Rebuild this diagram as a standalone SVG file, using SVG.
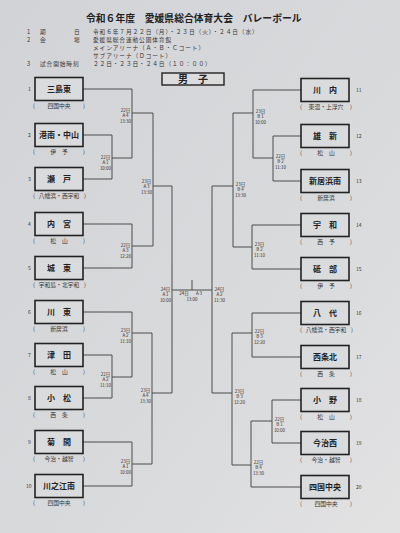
<svg xmlns="http://www.w3.org/2000/svg" width="400" height="533" viewBox="0 0 400 533">
<defs>
<linearGradient id="paper" x1="0" y1="0" x2="1" y2="1">
<stop offset="0" stop-color="#d2d3d6"/>
<stop offset="0.6" stop-color="#d9dadc"/>
<stop offset="1" stop-color="#e2e2e3"/>
</linearGradient>
</defs>
<style>
text{font-family:"Noto Sans CJK JP","Noto Sans",sans-serif;fill:#222}
.title{font-size:9.8px;font-weight:bold}
.info{font-size:5.7px;letter-spacing:0.9px;fill:#333}
.box{fill:#dadbdc;stroke:#222;stroke-width:1.6}
.name{font-size:8px;font-weight:bold;text-anchor:middle}
.sub{font-size:5.8px;text-anchor:middle;fill:#333}
.par{font-size:5.8px;fill:#333}
.num{font-size:5px;fill:#333}
.ml{font-size:4.5px;text-anchor:middle;fill:#333}
.ln{fill:none;stroke:#4d4d4d;stroke-width:1}
</style>
<rect width="400" height="533" fill="url(#paper)"/>

<g id="header">
<text class="title" x="86" y="21.8">令和６年度　愛媛県総合体育大会　バレーボール</text>
<text class="info" x="27" y="34.3">1</text><text class="info" x="40" y="34.3">期</text><text class="info" x="74" y="34.3">日</text>
<text class="info" x="93" y="34.3">令和６年７月２２日（月）・２３日（火）・２４日（水）</text>
<text class="info" x="27" y="42.2">2</text><text class="info" x="40" y="42.2">会</text><text class="info" x="74" y="42.2">場</text>
<text class="info" x="93" y="42.2">愛媛県総合運動公園体育館</text>
<text class="info" x="93" y="50.1">メインアリーナ（Ａ・Ｂ・Ｃコート）</text>
<text class="info" x="93" y="57.8">サブアリーナ（Ｄコート）</text>
<text class="info" x="27" y="65.5">3</text><text class="info" x="40" y="65.5">試合開始時刻</text>
<text class="info" x="93" y="65.5">２２日・２３日・２４日（１０：００）</text>
</g>

<g id="category">
<rect x="162" y="73" width="62" height="12" fill="#dcdcdd" stroke="#222" stroke-width="1.4"/>
<text x="193" y="82.8" style="font-size:10px;font-weight:bold;text-anchor:middle">男　子</text>
</g>

<g id="connectors">
<path class="ln" d="M83,89 H132 V158"/>
<path class="ln" d="M83,135 H112 V179 H83"/>
<path class="ln" d="M112,158 H132"/>
<path class="ln" d="M132,113 H153 V246"/>
<path class="ln" d="M83,224 H132 V268 H83"/>
<path class="ln" d="M132,246 H153"/>
<path class="ln" d="M153,186 H172 V393 H152"/>
<path class="ln" d="M83,312 H132 V377"/>
<path class="ln" d="M83,355 H112 V398 H83"/>
<path class="ln" d="M112,377 H132"/>
<path class="ln" d="M132,333 H152 V464"/>
<path class="ln" d="M83,442 H132 V486 H83"/>
<path class="ln" d="M132,464 H152"/>
<path class="ln" d="M172,290 H212"/>
<path class="ln" d="M192,280 V290"/>
<path class="ln" d="M301,90 H253 V158"/>
<path class="ln" d="M301,136 H273 V181 H301"/>
<path class="ln" d="M273,158 H253"/>
<path class="ln" d="M253,113 H233 V247"/>
<path class="ln" d="M301,225 H252 V269 H301"/>
<path class="ln" d="M252,247 H233"/>
<path class="ln" d="M233,186 H212 V393 H232"/>
<path class="ln" d="M301,313 H252 V357 H301"/>
<path class="ln" d="M252,333 H232 V465"/>
<path class="ln" d="M301,400 H272 V443 H301"/>
<path class="ln" d="M272,421 H251 V487 H301"/>
<path class="ln" d="M251,465 H232"/>
</g>

<g id="match-labels">
<text class="ml" x="105.5" y="158.7">22日</text><text class="ml" x="105.5" y="164.4">A 1</text><text class="ml" x="105.5" y="170.1">10:00</text>
<text class="ml" x="125.5" y="111.7">22日</text><text class="ml" x="125.5" y="117.4">A 4</text><text class="ml" x="125.5" y="123.1">13:30</text>
<text class="ml" x="125.5" y="246.7">22日</text><text class="ml" x="125.5" y="252.4">A 3</text><text class="ml" x="125.5" y="258.1">12:20</text>
<text class="ml" x="146.5" y="182.7">23日</text><text class="ml" x="146.5" y="188.4">A 3</text><text class="ml" x="146.5" y="194.1">13:30</text>
<text class="ml" x="165.5" y="290.7">24日</text><text class="ml" x="165.5" y="296.4">A 1</text><text class="ml" x="165.5" y="302.1">10:00</text>
<text class="ml" x="125.5" y="331.7">23日</text><text class="ml" x="125.5" y="337.4">A 2</text><text class="ml" x="125.5" y="343.1">11:10</text>
<text class="ml" x="105.5" y="375.7">22日</text><text class="ml" x="105.5" y="381.4">A 2</text><text class="ml" x="105.5" y="387.1">11:10</text>
<text class="ml" x="145.5" y="391.7">23日</text><text class="ml" x="145.5" y="397.4">A 4</text><text class="ml" x="145.5" y="403.1">13:30</text>
<text class="ml" x="125.5" y="462.7">23日</text><text class="ml" x="125.5" y="468.4">A 1</text><text class="ml" x="125.5" y="474.1">10:00</text>
<text class="ml" x="184" y="295">24日</text><text class="ml" x="199" y="295">A 3</text><text class="ml" x="192" y="300.5">13:00</text>
<text class="ml" x="219.5" y="290.7">24日</text><text class="ml" x="219.5" y="296.4">A 2</text><text class="ml" x="219.5" y="302.1">11:30</text>
<text class="ml" x="260.5" y="112.7">23日</text><text class="ml" x="260.5" y="118.4">B 1</text><text class="ml" x="260.5" y="124.1">10:00</text>
<text class="ml" x="280.5" y="157.7">22日</text><text class="ml" x="280.5" y="163.4">B 2</text><text class="ml" x="280.5" y="169.1">11:10</text>
<text class="ml" x="240.5" y="185.7">23日</text><text class="ml" x="240.5" y="191.4">B 4</text><text class="ml" x="240.5" y="197.1">13:30</text>
<text class="ml" x="259.5" y="245.7">23日</text><text class="ml" x="259.5" y="251.4">B 2</text><text class="ml" x="259.5" y="257.1">11:10</text>
<text class="ml" x="259.5" y="332.7">22日</text><text class="ml" x="259.5" y="338.4">B 3</text><text class="ml" x="259.5" y="344.1">12:20</text>
<text class="ml" x="239.5" y="392.7">23日</text><text class="ml" x="239.5" y="398.4">B 3</text><text class="ml" x="239.5" y="404.1">12:20</text>
<text class="ml" x="279.5" y="420.7">22日</text><text class="ml" x="279.5" y="426.4">B 1</text><text class="ml" x="279.5" y="432.1">10:00</text>
<text class="ml" x="258.5" y="463.7">22日</text><text class="ml" x="258.5" y="469.4">B 4</text><text class="ml" x="258.5" y="475.1">13:30</text>
</g>

<g id="team-1"><text class="num" x="28" y="90.8">1</text><rect class="box" x="35" y="77.5" width="48" height="23"/><text class="name" x="59" y="92">三島東</text><text class="par" x="33" y="107.7">(</text><text class="sub" x="59" y="107.7">四国中央</text><text class="par" x="83" y="107.7">)</text></g>
<g id="team-2"><text class="num" x="28" y="136.8">2</text><rect class="box" x="35" y="123.5" width="48" height="23"/><text class="name" x="59" y="138">港南・中山</text><text class="par" x="33" y="153.7">(</text><text class="sub" x="59" y="153.7">伊　予</text><text class="par" x="83" y="153.7">)</text></g>
<g id="team-3"><text class="num" x="28" y="180.8">3</text><rect class="box" x="35" y="167.5" width="48" height="23"/><text class="name" x="59" y="182">瀬　戸</text><text class="par" x="33" y="197.7">(</text><text class="sub" x="59" y="197.7">八幡浜・西宇和</text><text class="par" x="84" y="197.7">)</text></g>
<g id="team-4"><text class="num" x="28" y="225.8">4</text><rect class="box" x="35" y="212.5" width="48" height="23"/><text class="name" x="59" y="227">内　宮</text><text class="par" x="33" y="242.7">(</text><text class="sub" x="59" y="242.7">松　山</text><text class="par" x="83" y="242.7">)</text></g>
<g id="team-5"><text class="num" x="28" y="269.8">5</text><rect class="box" x="35" y="256.5" width="48" height="23"/><text class="name" x="59" y="271">城　東</text><text class="par" x="33" y="286.7">(</text><text class="sub" x="59" y="286.7">宇和島・北宇和</text><text class="par" x="84" y="286.7">)</text></g>
<g id="team-6"><text class="num" x="28" y="313.8">6</text><rect class="box" x="35" y="300.5" width="48" height="23"/><text class="name" x="59" y="315">川　東</text><text class="par" x="33" y="330.7">(</text><text class="sub" x="59" y="330.7">新居浜</text><text class="par" x="83" y="330.7">)</text></g>
<g id="team-7"><text class="num" x="28" y="356.8">7</text><rect class="box" x="35" y="343.5" width="48" height="23"/><text class="name" x="59" y="358">津　田</text><text class="par" x="33" y="373.7">(</text><text class="sub" x="59" y="373.7">松　山</text><text class="par" x="83" y="373.7">)</text></g>
<g id="team-8"><text class="num" x="28" y="399.8">8</text><rect class="box" x="35" y="386.5" width="48" height="23"/><text class="name" x="59" y="401">小　松</text><text class="par" x="33" y="416.7">(</text><text class="sub" x="59" y="416.7">西　条</text><text class="par" x="83" y="416.7">)</text></g>
<g id="team-9"><text class="num" x="28" y="443.8">9</text><rect class="box" x="35" y="430.5" width="48" height="23"/><text class="name" x="59" y="445">菊　間</text><text class="par" x="33" y="460.7">(</text><text class="sub" x="59" y="460.7">今治・越智</text><text class="par" x="83" y="460.7">)</text></g>
<g id="team-10"><text class="num" x="26" y="487.8">10</text><rect class="box" x="35" y="474.5" width="48" height="23"/><text class="name" x="59" y="489">川之江南</text><text class="par" x="33" y="504.7">(</text><text class="sub" x="59" y="504.7">四国中央</text><text class="par" x="83" y="504.7">)</text></g>

<g id="team-11"><rect class="box" x="301" y="78.5" width="48" height="23"/><text class="num" x="356" y="91.8">11</text><text class="name" x="325" y="93">川　内</text><text class="par" x="300" y="108.7">(</text><text class="sub" x="326" y="108.7">東温・上浮穴</text><text class="par" x="350" y="108.7">)</text></g>
<g id="team-12"><rect class="box" x="301" y="124.5" width="48" height="23"/><text class="num" x="356" y="137.8">12</text><text class="name" x="325" y="139">雄　新</text><text class="par" x="300" y="154.7">(</text><text class="sub" x="326" y="154.7">松　山</text><text class="par" x="350" y="154.7">)</text></g>
<g id="team-13"><rect class="box" x="301" y="169.5" width="48" height="23"/><text class="num" x="356" y="182.8">13</text><text class="name" x="325" y="184">新居浜南</text><text class="par" x="300" y="199.7">(</text><text class="sub" x="326" y="199.7">新居浜</text><text class="par" x="350" y="199.7">)</text></g>
<g id="team-14"><rect class="box" x="301" y="213.5" width="48" height="23"/><text class="num" x="356" y="226.8">14</text><text class="name" x="325" y="228">宇　和</text><text class="par" x="300" y="243.7">(</text><text class="sub" x="326" y="243.7">西　予</text><text class="par" x="350" y="243.7">)</text></g>
<g id="team-15"><rect class="box" x="301" y="257.5" width="48" height="23"/><text class="num" x="356" y="270.8">15</text><text class="name" x="325" y="272">砥　部</text><text class="par" x="300" y="287.7">(</text><text class="sub" x="326" y="287.7">伊　予</text><text class="par" x="350" y="287.7">)</text></g>
<g id="team-16"><rect class="box" x="301" y="301.5" width="48" height="23"/><text class="num" x="356" y="314.8">16</text><text class="name" x="325" y="316">八　代</text><text class="par" x="300" y="331.7">(</text><text class="sub" x="326" y="331.7">八幡浜・西宇和</text><text class="par" x="351" y="331.7">)</text></g>
<g id="team-17"><rect class="box" x="301" y="345.5" width="48" height="23"/><text class="num" x="356" y="358.8">17</text><text class="name" x="325" y="360">西条北</text><text class="par" x="300" y="375.7">(</text><text class="sub" x="326" y="375.7">西　条</text><text class="par" x="350" y="375.7">)</text></g>
<g id="team-18"><rect class="box" x="301" y="388.5" width="48" height="23"/><text class="num" x="356" y="401.8">18</text><text class="name" x="325" y="403">小　野</text><text class="par" x="300" y="418.7">(</text><text class="sub" x="326" y="418.7">松　山</text><text class="par" x="350" y="418.7">)</text></g>
<g id="team-19"><rect class="box" x="301" y="431.5" width="48" height="23"/><text class="num" x="356" y="444.8">19</text><text class="name" x="325" y="446">今治西</text><text class="par" x="300" y="461.7">(</text><text class="sub" x="326" y="461.7">今治・越智</text><text class="par" x="350" y="461.7">)</text></g>
<g id="team-20"><rect class="box" x="301" y="475.5" width="48" height="23"/><text class="num" x="356" y="488.8">20</text><text class="name" x="325" y="490">四国中央</text><text class="par" x="300" y="505.7">(</text><text class="sub" x="326" y="505.7">四国中央</text><text class="par" x="350" y="505.7">)</text></g>
</svg>
